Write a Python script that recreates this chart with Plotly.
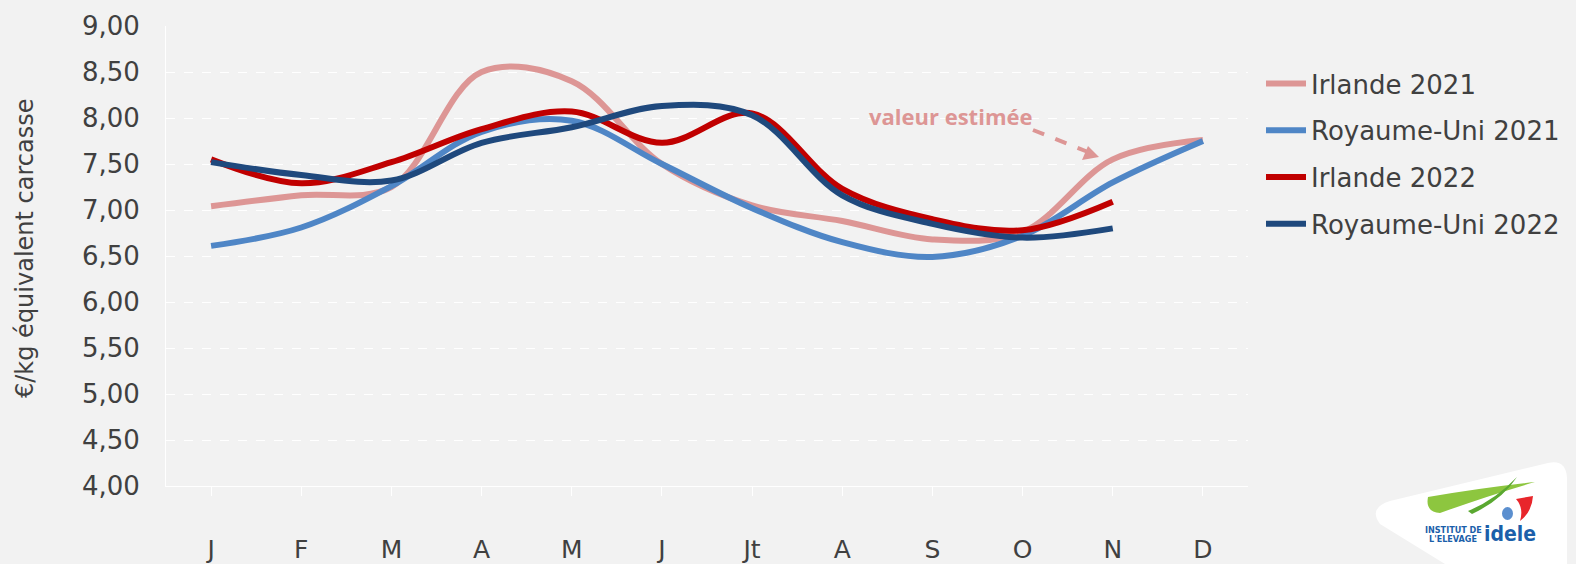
import plotly.graph_objects as go

months = ["J", "F", "M", "A", "M", "J", "Jt", "A", "S", "O", "N", "D"]
irl_2021 = [7.04, 7.16, 7.25, 8.50, 8.40, 7.50, 7.05, 6.88, 6.68, 6.76, 7.55, 7.76]
ru_2021 = [6.61, 6.81, 7.26, 7.85, 7.97, 7.50, 7.02, 6.65, 6.49, 6.72, 7.30, 7.75]
irl_2022 = [7.55, 7.29, 7.52, 7.88, 8.07, 7.73, 8.05, 7.23, 6.90, 6.78, 7.09]
ru_2022 = [7.52, 7.38, 7.32, 7.73, 7.90, 8.13, 8.03, 7.16, 6.85, 6.70, 6.80]

series = [
    ("Irlande 2021", irl_2021, "#dd9695"),
    ("Royaume-Uni 2021", ru_2021, "#4f86c6"),
    ("Irlande 2022", irl_2022, "#c00000"),
    ("Royaume-Uni 2022", ru_2022, "#1f497d"),
]

W, H = 1576, 564
L, R, T, B = 166, 1248, 26, 486

def px(x):
    return (x - L) / (R - L)

def py(y):
    return (B - y) / (B - T)

fig = go.Figure()
xs = list(range(12))
for i, (name, vals, col) in enumerate(series):
    fig.add_trace(go.Scatter(
        x=xs[:len(vals)], y=vals, name=name, mode="lines", legendgroup=f"g{i}",
        line=dict(color=col, width=6, shape="spline", smoothing=1.0),
    ))

font_main = "'DejaVu Sans', sans-serif"
txt = "#404040"

fig.update_layout(
    width=W, height=H,
    margin=dict(l=L, r=W - R, t=T, b=H - B, autoexpand=False),
    paper_bgcolor="#f2f2f2", plot_bgcolor="#f2f2f2",
    separators=", ",
    font=dict(family=font_main, color=txt),
    showlegend=True,
    legend=dict(
        x=px(1261), y=py(60), xanchor="left", yanchor="top",
        font=dict(size=26, color=txt, family=font_main),
        bgcolor="rgba(0,0,0,0)", tracegroupgap=10, itemwidth=40,
    ),
    xaxis=dict(
        automargin=False,
        tickmode="array", tickvals=xs, ticktext=months,
        range=[-0.5, 11.5], tickson="boundaries", ticks="outside",
        ticklen=9, tickcolor="#ffffff", tickwidth=1,
        showline=True, linecolor="#ffffff", linewidth=1,
        showgrid=False, zeroline=False,
        tickfont=dict(size=25, color=txt),
        ticklabelstandoff=32,
    ),
    yaxis=dict(
        automargin=False,
        range=[4, 9], tickmode="linear", tick0=4, dtick=0.5,
        tickformat=".2f",
        showgrid=True, gridcolor="#ffffff", gridwidth=1, griddash="dash",
        showline=True, linecolor="#ffffff", linewidth=1,
        zeroline=False, ticks="",
        tickfont=dict(size=26, color=txt),
        ticklabelstandoff=20,
    ),
)

# y-axis title
fig.add_annotation(x=px(25), y=py(248), xref="paper", yref="paper",
                   xanchor="center", yanchor="middle",
                   text="€/kg équivalent carcasse", showarrow=False, textangle=-90,
                   font=dict(size=24, color=txt, family=font_main))

# annotation "valeur estimée" with dashed arrow
fig.add_annotation(
    x=px(950), y=py(116), xref="paper", yref="paper", xanchor="center", yanchor="middle",
    text="<b>valeur estimée</b>", showarrow=False,
    font=dict(size=22, color="#dd9695", family="'Open Sans', sans-serif"),
)
fig.add_shape(type="line", xref="paper", yref="paper",
              x0=px(1033), y0=py(130), x1=px(1088), y1=py(152),
              line=dict(color="#dd9695", width=4, dash="dash"))
fig.add_shape(type="path", xref="paper", yref="paper",
              path=f"M {px(1099)},{py(157)} L {px(1082)},{py(160)} L {px(1088)},{py(146)} Z",
              fillcolor="#dd9695", line=dict(width=0))

# logo approximation
fig.add_shape(type="path", xref="paper", yref="paper",
              path=(f"M {px(1380)},{py(524)} Q {px(1368)},{py(508)} {px(1390)},{py(501)} "
                    f"L {px(1548)},{py(463)} Q {px(1566)},{py(459)} {px(1567)},{py(478)} "
                    f"L {px(1567)},{py(564)} L {px(1445)},{py(564)} Z"),
              fillcolor="#ffffff", line=dict(width=0), layer="above")
fig.add_shape(type="path", xref="paper", yref="paper",
              path=(f"M {px(1428)},{py(497)} Q {px(1480)},{py(488)} {px(1535)},{py(482)} "
                    f"Q {px(1490)},{py(495)} {px(1440)},{py(513)} Q {px(1425)},{py(512)} {px(1428)},{py(497)} Z"),
              fillcolor="#8dc63f", line=dict(width=0), layer="above")
fig.add_shape(type="path", xref="paper", yref="paper",
              path=(f"M {px(1468)},{py(511)} Q {px(1495)},{py(500)} {px(1517)},{py(477)} "
                    f"Q {px(1502)},{py(500)} {px(1472)},{py(514)} Z"),
              fillcolor="#5aa830", line=dict(width=0), layer="above")
fig.add_shape(type="path", xref="paper", yref="paper",
              path=(f"M {px(1516)},{py(499)} L {px(1533)},{py(496)} Q {px(1532)},{py(512)} {px(1520)},{py(521)} "
                    f"Q {px(1524)},{py(508)} {px(1516)},{py(499)} Z"),
              fillcolor="#e8262b", line=dict(width=0), layer="above")
fig.add_shape(type="circle", xref="paper", yref="paper",
              x0=px(1502), y0=py(520), x1=px(1513), y1=py(507),
              fillcolor="#5b8fcf", line=dict(width=0), layer="above")
logo_font = "'DejaVu Sans Condensed', 'DejaVu Sans', sans-serif"
fig.add_annotation(x=px(1453), y=py(530), xref="paper", yref="paper",
                   xanchor="center", yanchor="middle",
                   text="<b>INSTITUT DE</b>", showarrow=False,
                   font=dict(size=9, color="#1b5faa", family=logo_font))
fig.add_annotation(x=px(1453), y=py(539), xref="paper", yref="paper",
                   xanchor="center", yanchor="middle",
                   text="<b>L'ELEVAGE</b>", showarrow=False,
                   font=dict(size=9, color="#1b5faa", family=logo_font))
fig.add_annotation(x=px(1510), y=py(534), xref="paper", yref="paper",
                   xanchor="center", yanchor="middle",
                   text="<b>idele</b>", showarrow=False,
                   font=dict(size=21, color="#1b5faa", family=logo_font))

fig.write_html("out.html", config={"displayModeBar": False},
               post_script="document.body.style.margin='0';document.body.style.overflow='hidden';")
